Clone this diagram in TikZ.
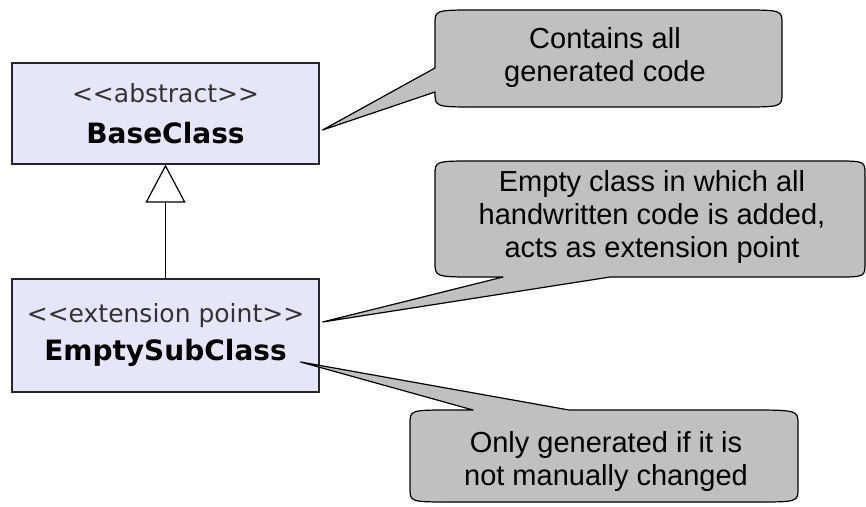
\documentclass[tikz,border=0pt]{standalone}
\usepackage{fontspec}
\usetikzlibrary{arrows.meta}
\newfontfamily\clsfont{DejaVu Sans}
\newfontfamily\notefont{Liberation Sans}
\definecolor{clsfill}{RGB}{230,230,250}
\definecolor{notefill}{RGB}{192,192,192}
\newcommand{\stereo}[1]{\textcolor{black!80}{<\kern0pt<#1>\kern0pt>}}
\tikzset{
  cls/.style={draw=black!85, fill=clsfill, line width=1.2pt, minimum width=307pt,
    align=center, inner sep=0pt, font={\clsfont\fontsize{25}{40}\selectfont}},
  note/.style={fill=notefill, draw=black, line width=1.2pt, line join=round},
  notetext/.style={align=center, inner sep=0pt, font={\notefont\fontsize{29}{33}\selectfont}},
}

\begin{document}
\begin{tikzpicture}[x=1pt, y=-1pt]
    \useasboundingbox (0,0) rectangle (866,506);
    % classes
    \node[cls, minimum height=101pt] (base) at (165.5,113.5)
        {\stereo{abstract}\\[1pt]{\bfseries\fontsize{28}{41}\selectfont BaseClass}};
    \node[cls, minimum height=113pt] (sub) at (165.5,335.5)
        {\stereo{extension point}\\[-2pt]{\bfseries\fontsize{28}{38}\selectfont EmptySubClass}};
    \draw[line width=1.2pt, -{Triangle[length=38pt,width=40pt,fill=white]}] (sub.north) -- (base.south);
    % pointer tips
    \coordinate (tipA) at ([shift={(3,16.5)}]base.east);
    \coordinate (tipB) at ([shift={(3,-13.5)}]sub.east);
    \coordinate (tipC) at ([shift={(-19,26.5)}]sub.east);
    % notes
    \filldraw[note] (477,10) -- (740,10) .. controls (782,10) .. (782,24)
        -- (782,93) .. controls (782,107) .. (740,107) -- (477,107)
        .. controls (435,107) .. (435,92) -- (tipA) -- (435,68)
        -- (435,24) .. controls (435,10) .. (477,10) -- cycle;
    \filldraw[note] (475,161) -- (835,161) .. controls (865,161) .. (865,175)
        -- (865,263) .. controls (865,277) .. (835,277) -- (610,277) -- (tipB)
        -- (503,277) -- (477,277) .. controls (435,277) .. (435,262)
        -- (435,175) .. controls (435,161) .. (475,161) -- cycle;
    \filldraw[note] (452,410) -- (473,410) -- (tipC) -- (569,410) -- (745,410)
        .. controls (798,410) .. (798,424) -- (798,488)
        .. controls (798,502) .. (755,502) -- (452,502)
        .. controls (410,502) .. (410,488) -- (410,424)
        .. controls (410,410) .. (452,410) -- cycle;
    \node[notetext] (gen) at (605,58) {Contains all\\generated code};
    \node[notetext] (ext) at (652,217) {Empty class in which all\\handwritten code is added,\\acts as extension point};
    \node[notetext] (man) at (606,461) {Only generated if it is\\not manually changed};
\end{tikzpicture}
\end{document}
